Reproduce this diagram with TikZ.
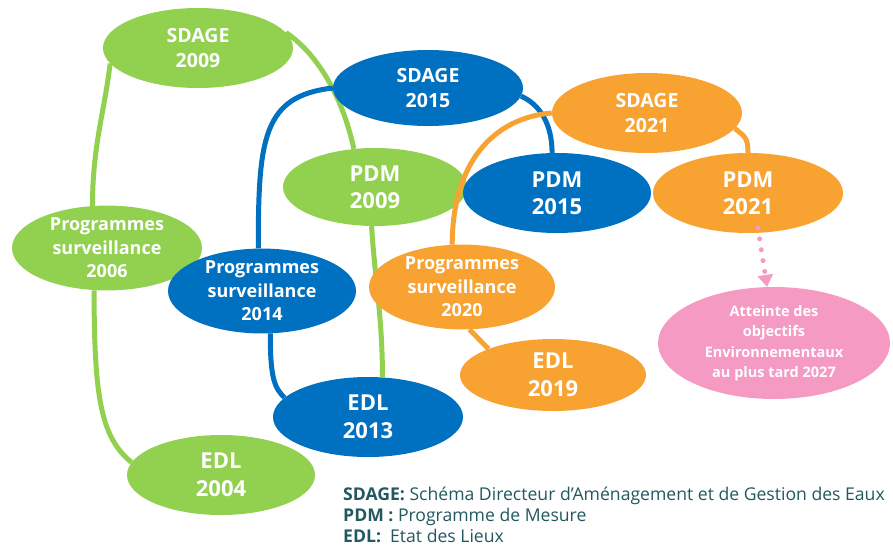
\documentclass[tikz,border=0pt]{standalone}
\usepackage{fontspec}
\setmainfont{Open Sans}
\usetikzlibrary{shapes.geometric,arrows.meta}
\definecolor{cycvert}{HTML}{92D050}
\definecolor{cycbleu}{HTML}{0070C0}
\definecolor{cycorange}{HTML}{F8A232}
\definecolor{cycrose}{HTML}{F49AC3}
\definecolor{legende}{HTML}{22585F}
\tikzset{
  phase/.style    = {ellipse, inner sep=0pt, align=center, text=white,
                     minimum width=190pt, minimum height=80pt},
  sdage/.style    = {phase, font=\fontsize{19.5}{25}\selectfont\bfseries},
  pdm/.style      = {phase, font=\fontsize{22}{27}\selectfont\bfseries},
  edl/.style      = {phase, font=\fontsize{22}{28}\selectfont\bfseries},
  prog/.style     = {phase, font=\fontsize{18}{23.5}\selectfont\bfseries},
  vert/.style     = {fill=cycvert},
  bleu/.style     = {fill=cycbleu},
  orange/.style   = {fill=cycorange},
  but/.style      = {phase, fill=cycrose, minimum width=232pt, minimum height=112pt,
                     font=\fontsize{14.5}{20.5}\selectfont\bfseries},
  link/.style     = {line width=5pt},
  vlink/.style    = {link, draw=cycvert},
  blink/.style    = {link, draw=cycbleu},
  olink/.style    = {link, draw=cycorange},
  vers/.style     = {draw=cycrose, line width=5pt, line cap=round,
                     dash pattern=on 0pt off 11pt,
                     -{Triangle[width=15pt,length=12pt,line cap=butt]}},
  legtxt/.style   = {align=left, anchor=north west, text=legende, inner sep=0pt,
                     font=\fontsize{17.6}{21}\selectfont}
}

\begin{document}
\begin{tikzpicture}[x=1pt, y=1pt]
  \useasboundingbox (0,0) rectangle (893,-546);

  % Cycle 1 (vert)
  \node[sdage, vert]                     (S09) at (198,-48)  {SDAGE\\2009};
  \node[prog, vert]                      (P06) at (107,-248) {Programmes\\surveillance\\2006};
  \node[edl, vert, minimum width=188pt]  (E04) at (221,-475) {EDL\\2004};
  \node[pdm, vert, minimum width=184pt, minimum height=78pt] (M09) at (375,-187) {PDM\\2009};

  \draw[vlink] (S09.190) .. controls +(-6,-50) and +(0,60) .. (P06.109);
  \draw[vlink] (P06.253) .. controls +(0,-110) and +(-30,25) .. (E04.172);
  \draw[vlink] (S09.10) .. controls +(30,-20) and +(-12,55) .. (M09.119);

  % Cycle 2 (bleu)
  \node[sdage, bleu, minimum height=76pt] (S15) at (428,-88)  {SDAGE\\2015};
  \node[prog, bleu, minimum width=188pt, minimum height=82pt] (P14) at (262,-291) {Programmes\\surveillance\\2014};
  \node[edl, bleu]                       (E13) at (368,-417) {EDL\\2013};
  \node[pdm, bleu, minimum width=188pt]  (M15) at (557,-193) {PDM\\2015};

  \draw[vlink] (M09.265) .. controls +(3,-50) and +(0,60) .. (E13.70);
  \draw[blink] (S15.180) .. controls +(-70,-8) and +(0,110) .. (P14.95);
  \draw[blink] (P14.281) .. controls +(0,-45) and +(-10,10) .. (E13.167);
  \draw[blink] (S15.355) .. controls +(18,-8) and +(0,30) .. (M15.97);

  % Cycle 3 (orange)
  \node[sdage, orange]                   (S21) at (647,-113) {SDAGE\\2021};
  \node[pdm, orange]                     (M21) at (748,-193) {PDM\\2021};
  \node[prog, orange, minimum width=186pt] (P20) at (462,-287) {Programmes\\surveillance\\2020};
  \node[edl, orange, minimum width=186pt, minimum height=72pt] (E19) at (553,-375) {EDL\\2019};

  \draw[olink] (S21.180) .. controls +(-60,-5) and +(0,80) .. (P20.103);
  \draw[olink] (P20.280) -- (E19.158);
  \draw[olink] (S21.350) .. controls +(10,-8) and +(0,15) .. (M21.90);

  % Objectif final
  \node[but] (OBJ) at (774,-343) {Atteinte des\\objectifs\\Environnementaux\\au plus tard 2027};
  \draw[vers] ([yshift=5pt]M21.284) -- (OBJ.97);

  % Legende
  \node[legtxt] (LEG) at (343,-487)
    {\textbf{SDAGE:} Schéma Directeur d’Aménagement et de Gestion des Eaux\\
     \textbf{PDM :} Programme de Mesure\\
     \textbf{EDL:}\ \ Etat des Lieux};

\end{tikzpicture}
\end{document}
